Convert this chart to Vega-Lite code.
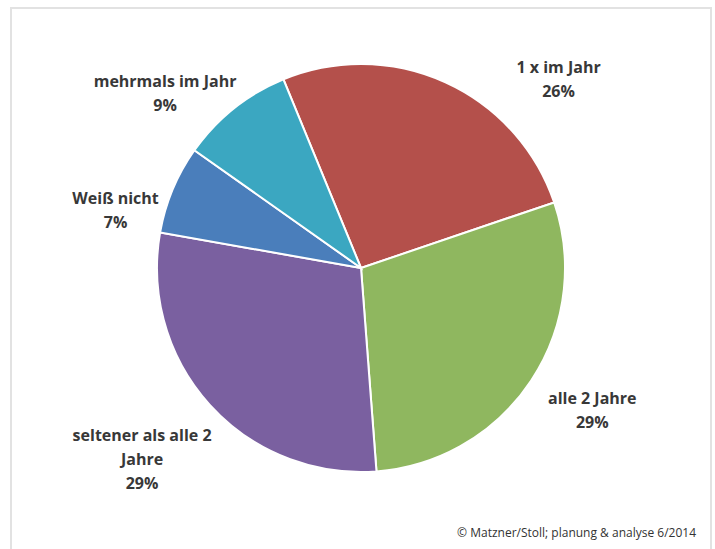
{
  "$schema": "https://vega.github.io/schema/vega-lite/v6.json",
  "width": 700,
  "height": 520,
  "autosize": {"type": "none"},
  "padding": {"left": 11, "top": 8, "right": 4, "bottom": 21},
  "background": "#ffffff",
  "config": {"view": {"stroke": null}},
  "title": {
    "text": "© Matzner/Stoll; planung & analyse 6/2014",
    "orient": "bottom",
    "anchor": "end",
    "frame": "group",
    "dx": -15,
    "offset": -23,
    "fontSize": 12,
    "fontWeight": "normal",
    "color": "#333333",
    "font": "Open Sans"
  },
  "data": {
    "values": [
      {"cat": "1 x im Jahr", "value": 26, "idx": 1, "label": "1 x im Jahr\n26%"},
      {"cat": "alle 2 Jahre", "value": 29, "idx": 2, "label": "alle 2 Jahre\n29%"},
      {"cat": "seltener als alle 2 Jahre", "value": 29, "idx": 3, "label": "seltener als alle 2\nJahre\n29%"},
      {"cat": "Weiß nicht", "value": 7, "idx": 4, "label": "Weiß nicht\n7%"},
      {"cat": "mehrmals im Jahr", "value": 9, "idx": 5, "label": "mehrmals im Jahr\n9%"}
    ]
  },
  "layer": [
    {
      "data": {"values": [{"frame": "border"}]},
      "mark": {"type": "rect", "x": 0, "x2": "width", "y": 0, "y2": {"expr": "height + 22"}, "fill": null, "stroke": "#e2e2e2", "strokeWidth": 2},
      "encoding": {}
    },
    {
      "mark": {"type": "arc", "outerRadius": 204, "stroke": "#ffffff", "strokeWidth": 2},
      "encoding": {
        "theta": {"field": "value", "type": "quantitative", "stack": true, "scale": {"range": [-0.39, 5.893]}},
        "order": {"field": "idx", "type": "quantitative"},
        "color": {
          "field": "cat",
          "type": "nominal",
          "scale": {
            "domain": ["1 x im Jahr", "alle 2 Jahre", "seltener als alle 2 Jahre", "Weiß nicht", "mehrmals im Jahr"],
            "range": ["#b4504b", "#8fb75f", "#7a60a0", "#4a7ebb", "#3ba7c1"]
          },
          "legend": null
        }
      }
    },
    {
      "mark": {"type": "text", "radius": 281, "thetaOffset": 0.353, "lineBreak": "\n", "font": "Open Sans", "fontSize": 16, "fontWeight": "bold", "fill": "#383838", "align": "center", "baseline": "middle", "lineHeight": 24},
      "encoding": {
        "theta": {"field": "value", "type": "quantitative", "stack": true},
        "order": {"field": "idx", "type": "quantitative"},
        "text": {"condition": {"test": "datum.cat === '1 x im Jahr'", "field": "label"}, "value": ""}
      }
    },
    {
      "mark": {"type": "text", "radius": 266, "thetaOffset": -0.067, "lineBreak": "\n", "font": "Open Sans", "fontSize": 16, "fontWeight": "bold", "fill": "#383838", "align": "center", "baseline": "middle", "lineHeight": 24},
      "encoding": {
        "theta": {"field": "value", "type": "quantitative", "stack": true},
        "order": {"field": "idx", "type": "quantitative"},
        "text": {"condition": {"test": "datum.cat === 'alle 2 Jahre'", "field": "label"}, "value": ""}
      }
    },
    {
      "mark": {"type": "text", "radius": 276, "thetaOffset": 0.081, "lineBreak": "\n", "font": "Open Sans", "fontSize": 16, "fontWeight": "bold", "fill": "#383838", "align": "center", "baseline": "middle", "lineHeight": 24},
      "encoding": {
        "theta": {"field": "value", "type": "quantitative", "stack": true},
        "order": {"field": "idx", "type": "quantitative"},
        "text": {"condition": {"test": "datum.cat === 'seltener als alle 2 Jahre'", "field": "label"}, "value": ""}
      }
    },
    {
      "mark": {"type": "text", "radius": 255, "thetaOffset": -0.121, "lineBreak": "\n", "font": "Open Sans", "fontSize": 16, "fontWeight": "bold", "fill": "#383838", "align": "center", "baseline": "middle", "lineHeight": 24},
      "encoding": {
        "theta": {"field": "value", "type": "quantitative", "stack": true},
        "order": {"field": "idx", "type": "quantitative"},
        "text": {"condition": {"test": "datum.cat === 'Weiß nicht'", "field": "label"}, "value": ""}
      }
    },
    {
      "mark": {"type": "text", "radius": 270, "thetaOffset": -0.139, "lineBreak": "\n", "font": "Open Sans", "fontSize": 16, "fontWeight": "bold", "fill": "#383838", "align": "center", "baseline": "middle", "lineHeight": 24},
      "encoding": {
        "theta": {"field": "value", "type": "quantitative", "stack": true},
        "order": {"field": "idx", "type": "quantitative"},
        "text": {"condition": {"test": "datum.cat === 'mehrmals im Jahr'", "field": "label"}, "value": ""}
      }
    }
  ]
}
